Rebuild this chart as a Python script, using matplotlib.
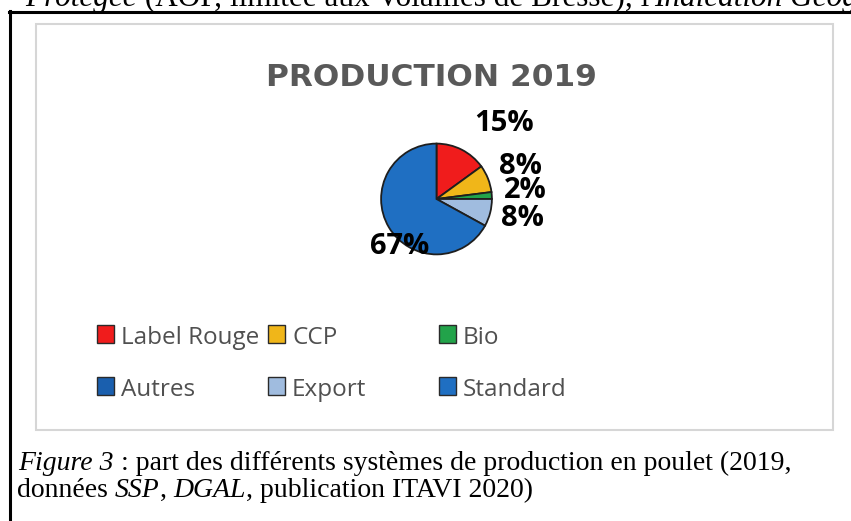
import matplotlib
matplotlib.use('Agg')
import matplotlib.pyplot as plt
from matplotlib.patches import Rectangle
from matplotlib.lines import Line2D

# canvas size in pixels
W, H = 851, 521

# chart data
title = 'PRODUCTION 2019'
categories = ['Label Rouge', 'CCP', 'Bio', 'Autres', 'Export', 'Standard']
shares = [15, 8, 2, 0, 8, 67]
colors = ['#f01c1c', '#f0b619', '#22a34a', '#1a5fae', '#a0bcdf', '#1f6fc2']
pct_labels = ['15%', '8%', '2%', '', '8%', '67%']

# surrounding document text
top_runs = [('Protégée', 'italic'), (" (AOP, limitée aux Volailles de Bresse), l'", 'normal'),
            ('Indication Géographique Protégée', 'italic')]
caption_1 = [('Figure 3', 'italic'), (' : part des différents systèmes de production en poulet (2019,', 'normal')]
caption_2 = [('données ', 'normal'), ('SSP', 'italic'), (', ', 'normal'), ('DGAL', 'italic'),
             (', publication ITAVI 2020)', 'normal')]

# layout (pixels, origin top-left)
pie_box = (380, 142, 113, 114)
pct_pos = [(504, 124), (520, 167), (525, 191), None, (522, 219), (400, 246)]
legend_cols = [97, 268, 439]
legend_rows = [344, 396]

fig = plt.figure(figsize=(W / 100, H / 100), dpi=100)
renderer = fig.canvas.get_renderer()


def fx(px):
    return px / W


def fy(py):
    return 1 - py / H


def serif_runs(x, y, runs, size):
    # draw text pieces one after the other, switching between roman and italic
    for s, style in runs:
        fig.text(fx(x), fy(y), s, fontsize=size, style=style, family='Liberation Serif',
                 va='baseline', ha='left')
        probe = fig.text(0, 0, s + '|', fontsize=size, style=style, family='Liberation Serif')
        w1 = probe.get_window_extent(renderer).width
        probe.set_text('|')
        w2 = probe.get_window_extent(renderer).width
        probe.remove()
        x += w1 - w2


# document frame
fig.add_artist(Line2D([fx(9.5), fx(9.5)], [fy(11), fy(H + 2)], transform=fig.transFigure,
                      color='black', lw=2.2))
fig.add_artist(Line2D([fx(8.5), fx(W + 2)], [fy(12), fy(12)], transform=fig.transFigure,
                      color='black', lw=2.2))

# chart area box
fig.add_artist(Rectangle((fx(36), fy(430)), (833 - 36) / W, (430 - 24) / H,
                         transform=fig.transFigure, facecolor='none', edgecolor='#d6d6d6', lw=1.5))

serif_runs(25, 6, top_runs, 22.5)
serif_runs(18, 470, caption_1, 20)
serif_runs(17, 497, caption_2, 20)

# title
fig.text(fx(431), fy(77), title, fontsize=22.5, fontweight='bold', color='#595959',
         family='DejaVu Sans', ha='center', va='center')

# pie
x0, y0, w, h = pie_box
ax = fig.add_axes([fx(x0), fy(y0 + h), w / W, h / H])
ax.pie(shares, colors=colors, startangle=90, counterclock=False,
       wedgeprops=dict(edgecolor='#1e1e1e', linewidth=1.3))
ax.set_xlim(-1.02, 1.02)
ax.set_ylim(-1.02, 1.02)
ax.set_aspect('equal')
ax.axis('off')

for lab, pos in zip(pct_labels, pct_pos):
    if pos is None or not lab:
        continue
    fig.text(fx(pos[0]), fy(pos[1]), lab, fontsize=21, fontweight='bold', color='black',
             family='Open Sans', ha='center', va='center')

# legend
for i, (cat, col) in enumerate(zip(categories, colors)):
    lx = legend_cols[i % 3]
    ly = legend_rows[i // 3]
    fig.add_artist(Rectangle((fx(lx), fy(ly - 1)), 17 / W, 18 / H, transform=fig.transFigure,
                             facecolor=col, edgecolor='#2a2a2a', lw=1.0))
    fig.text(fx(lx + 24), fy(ly), cat, fontsize=17.5, color='#505050', family='Open Sans',
             ha='left', va='baseline')

fig.savefig('out.png', dpi=100)
